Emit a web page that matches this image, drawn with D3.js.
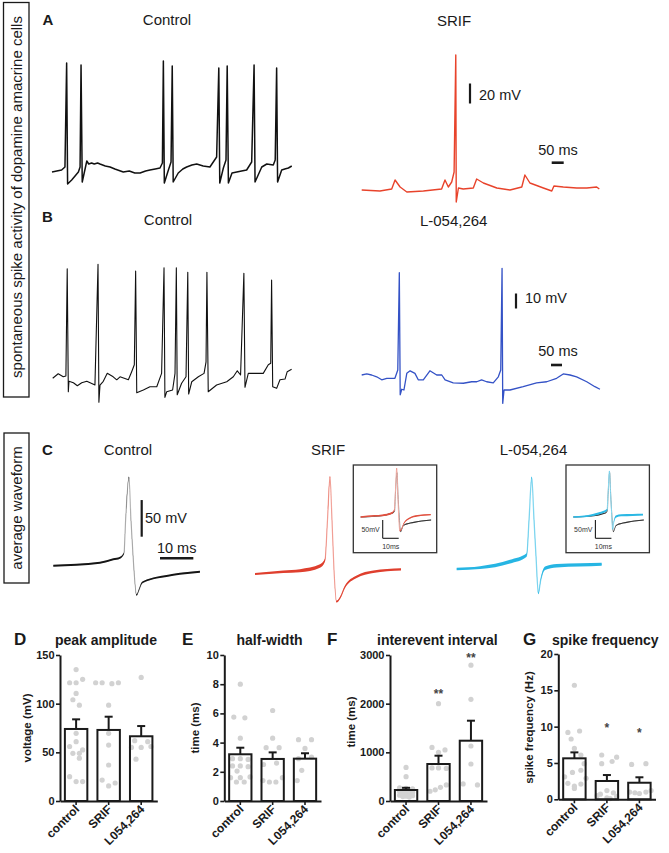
<!DOCTYPE html>
<html><head><meta charset="utf-8">
<script src="https://cdn.jsdelivr.net/npm/d3@7"></script>
<style>
body{margin:0;background:#fff;}
svg{display:block;font-family:"Liberation Sans",Arial,Helvetica,sans-serif;}
</style></head><body>
<svg id="fig" width="669" height="853"></svg>
<script>
// ---------------- DATA (time in ms, membrane potential in mV) ----------------
const ctrlA = [[0,-52],[40,-50],[54,-47],[61,57],[65,-64],[82,-60],[110,-52],[117,-47],[121,55],[126,-62],[145,-41],[153,-44],[165,-43],[176,-44],[190,-43],[200,-44],[222,-46],[242,-47],[262,-49],[297,-52],[322,-51],[345,-53],[367,-53],[390,-51],[408,-50],[430,-49],[450,-48],[460,-43],[464,59],[468,-63],[485,-50],[496,-42],[501,54],[505,-62],[526,-53],[545,-49],[561,-47],[583,-45],[603,-44],[630,-46],[658,-47],[686,-37],[695,52],[699,-63],[714,-48],[725,-40],[730,54],[735,-63],[750,-53],[770,-52],[790,-51],[811,-50],[832,-42],[842,55],[846,-62],[874,-47],[895,-44],[922,-45],[930,-40],[936,52],[940,-62],[957,-50],[970,-49],[985,-48],[999,-46]];
const srifA = [[0,-50],[76,-51],[125,-49],[139,-40],[160,-47],[188,-52],[257,-51],[333,-49],[347,-40],[361,-47],[375,-42],[385,-32],[392,85],[394,-62],[403,-48],[423,-49],[465,-48],[479,-39],[507,-43],[563,-48],[618,-50],[667,-47],[680,-35],[701,-43],[757,-48],[792,-51],[801,-46],[840,-47],[896,-48],[938,-48],[979,-47],[990,-49]];
const ctrlB = [[0,-55],[25,-52],[48,-54],[60,-53.5],[66,18],[71,-64],[74,-57],[94,-58],[112,-60],[132,-58],[155,-57],[170,-58],[192,-59.5],[206,21],[210,-71],[215,-59.5],[230,-57],[248,-51.7],[275,-54],[291,-56],[306,-54],[344,-56],[359,-50.6],[371,-46],[377,16.5],[382,-64.6],[412,-62.8],[442,-60.6],[473,-60.6],[495,-51.7],[506,18.7],[510,-67.7],[518,-64],[545,-62.8],[556,-51.7],[562,18.7],[566,-66],[586,-58.3],[606,-54],[614,15.7],[618,-65.5],[632,-57.3],[662,-54],[688,-51.7],[697,-44],[701,15.7],[707,-64],[745,-59.5],[791,-57.3],[821,-54],[839,-50],[854,-52.8],[869,15],[874,-61],[889,-51.7],[927,-51.7],[957,-51.7],[980,-46],[991,-45],[995,10.5],[1000,-60.6],[1018,-61.7],[1033,-56],[1056,-55.5],[1066,-50.6],[1086,-49]];
const l054B = [[0,-52.8],[23,-52.1],[45,-52.8],[68,-54],[91,-56],[114,-55],[151,-55],[164,-49.5],[171,15.4],[175,-66],[182,-62.3],[192,-62.8],[205,-51.7],[220,-50],[242,-51.7],[257,-56],[280,-56],[310,-50],[341,-52.8],[364,-52.8],[379,-56],[416,-58],[462,-58.3],[500,-57.3],[523,-57.3],[545,-56],[568,-57.3],[598,-58],[621,-54],[632,-49.5],[638,18.3],[641,-71.7],[647,-62.8],[674,-62.8],[734,-60.6],[795,-58],[841,-57.3],[886,-55],[916,-52.1],[947,-52.8],[977,-54],[1023,-57.3],[1060,-60.6],[1083,-62.3]];

// average waveforms (mean) and their SEM
const ctrlC = [[0,-55],[14,-50.9],[18,-46.3],[20,-44.1],[21.2,-38.1],[21.7,7.3],[22.7,65.6],[23.3,7.3],[24,-47],[25,-95],[25.7,-88],[26.5,-79],[27.5,-76],[29,-73.6],[31,-71.3],[34,-69],[38,-66],[44,-63.2]];
const ctrlSem = [1.3,1.3,1.3,1.3,1.2,1,1,1,1,1.1,1.2,1.3,1.3,1.3,1.3,1.3,1.3,1.3];
const srifC = [[0,-55],[8.5,-51.9],[13.5,-50.5],[19.5,-44.1],[21,-35.9],[21.75,18.7],[22.5,77.7],[23.1,18.7],[23.7,-49.5],[24.5,-92.8],[25.5,-87.7],[27,-72.3],[30.5,-58.7],[35.5,-51.9],[43.8,-48.6]];
const srifSem = [1.5,1.7,2.1,2.3,1.9,1,1,1,1,1.2,1.5,1.7,1.7,1.7,1.5];
const l054C = [[0,-55],[7,-53.2],[16,-45],[21,-35.9],[21.7,11.8],[22.5,70.1],[23.2,11.8],[23.8,-38.2],[24.5,-88.2],[25.2,-70],[26.5,-54],[30,-50.5],[37,-49.5],[43.5,-48.6]];
const l054Sem = [1.6,1.9,2.5,2.3,1.2,1.2,1.2,1.2,1.2,1.5,2.3,2.3,2.2,2.0];

// bar charts: [value, jitter]
const categories = ["control","SRIF","L054,264"];
const peakMean = [74, 73, 66.5];
const peakSem = [9.9, 13.6, 10.5];
const peakDots = [
  [[135,0],[121.5,-1],[121.5,0],[125,1],[110.5,0],[104,-0.5],[98.5,0.5],[69.5,0],[61,0],[56,-1],[52.5,1],[49,-0.5],[49,0.5],[44,0.5],[25,-1],[20,0],[20,1]],
  [[121.5,-2],[121.5,-1],[120.5,0.5],[121.5,1.5],[98.5,0],[69.5,0],[57.5,0],[37,0],[21.5,-1],[18.5,1],[15.5,0]],
  [[127,0],[62,-1],[61,1],[55,-1.5],[55,0],[56,1.5],[43,-0.8]]
];
const halfMean = [3.2, 2.88, 2.9];
const halfSem = [0.45, 0.45, 0.37];
const halfDots = [
  [[8.0,0],[5.75,-1],[5.7,0.7],[4.3,0],[2.9,-1.2],[2.9,0],[2.85,1.2],[2.4,-1.2],[2.4,0],[2.35,1.2],[2.05,-0.5],[1.6,-1.5],[1.6,0],[1.65,1.5],[1.3,-0.6],[1.3,0.6]],
  [[6.2,0],[4.3,0],[3.65,-1],[3.65,1],[2.6,0.6],[2.5,-1.4],[1.6,1.5],[1.4,-1.5],[1.3,-0.5],[1.3,0.5]],
  [[4.2,-1],[4.2,1],[3.6,0],[3.0,1],[2.9,-1],[2.1,-0.5],[1.4,-1.2]]
];
const ieiMean = [226, 760, 1239];
const ieiSem = [45, 171, 411];
const ieiDots = [
  [[690,0],[500,0],[270,-1],[260,0],[250,1],[240,-0.5],[230,0.5],[200,-1],[180,1],[160,0],[150,-0.5],[130,0.5],[120,-1],[110,1],[100,0],[90,-0.5],[80,0.5]],
  [[2000,0],[1100,-1],[1050,1],[1000,0],[680,-1],[680,0],[670,1.2],[330,1.2],[280,0.3],[230,-0.5],[200,-1.3]],
  [[2790,0],[2090,0],[1130,0],[760,0],[350,-1.2],[330,1]]
];
const ieiStars = ["", "**", "**"];
const ieiStarLevel = [0, 2240, 2985];
const freqMean = [5.64, 2.52, 2.28];
const freqSem = [0.82, 0.82, 0.75];
const freqDots = [
  [[15.7,0],[9.4,0.8],[9.2,-1],[8.3,-0.5],[7.0,0],[6.1,1],[4.9,1.5],[4.0,1],[3.7,-0.3],[3.1,-1.5],[2.9,1.8],[2.2,-1],[2.1,1],[1.8,0],[1.5,0]],
  [[6.1,-0.8],[5.8,1.5],[5.2,0.8],[4.9,-0.8],[1.2,0],[0.9,1],[0.7,-1],[0.5,-1.5],[0.4,1.5],[0.2,0],[0.1,0.5]],
  [[4.8,-1.2],[4.9,1],[1.2,1.8],[1.0,-1.5],[0.8,0],[0.9,-0.7],[1.0,1]]
];
const freqStars = ["", "*", "*"];
const freqStarLevel = [0, 10.1, 9.5];

// ---------------- DRAWING ----------------
const svg = d3.select("#fig");
const INK = "#1a1a1a";

function txt(x, y, s, o = {}) {
  const t = svg.append("text").attr("x", x).attr("y", y).text(s)
    .attr("font-size", o.size || 15).attr("fill", o.fill || INK)
    .attr("font-weight", o.bold ? "bold" : "normal")
    .attr("text-anchor", o.anchor || "start");
  if (o.rotate) t.attr("transform", `rotate(${o.rotate},${x},${y})`);
  return t;
}

function scales(data, o) {
  const tMax = d3.max(data, d => d[0]);
  const x = d3.scaleLinear().domain([0, tMax]).range([o.x0, o.x0 + tMax * o.pxMs]);
  const y = d3.scaleLinear().domain([o.vRest, o.vRest + 100]).range([o.yRest, o.yRest - 100 * o.pxMv]);
  return {x, y};
}

function drawTrace(data, o) {
  const {x, y} = scales(data, o);
  const line = d3.line().x(d => x(d[0])).y(d => y(d[1]));
  svg.append("path").datum(data).attr("d", line).attr("fill", "none")
    .attr("stroke", o.color).attr("stroke-width", o.sw).attr("stroke-linejoin", "round");
  return {x, y};
}

function drawWave(data, sem, o) {
  const {x, y} = scales(data, o);
  const curve = d3.curveMonotoneX;
  const line = d3.line().x(d => x(d[0])).y(d => y(d[1])).curve(curve);
  const area = d3.area().x(d => x(d[0]))
    .y0((d, i) => y(d[1] - sem[i] * o.semK)).y1((d, i) => y(d[1] + sem[i] * o.semK)).curve(curve);
  svg.append("path").datum(data).attr("d", line).attr("fill", "none")
    .attr("stroke", o.light).attr("stroke-width", o.lw);
  svg.append("path").datum(data).attr("d", area).attr("fill", o.dark).attr("stroke", "none");
  return {x, y};
}

function vBar(x, yBottom, len, yScale, w) {
  const h = Math.abs(yScale(0) - yScale(len));
  svg.append("line").attr("x1", x).attr("x2", x).attr("y1", yBottom).attr("y2", yBottom - h)
    .attr("stroke", INK).attr("stroke-width", w);
}
function hBar(x, y, len, xScale, w) {
  const l = xScale(len) - xScale(0);
  svg.append("line").attr("x1", x).attr("x2", x + l).attr("y1", y).attr("y2", y)
    .attr("stroke", INK).attr("stroke-width", w);
  return l;
}

// left boxed labels
svg.append("rect").attr("x", 3.5).attr("y", 2.5).attr("width", 25.5).attr("height", 394.5)
  .attr("fill", "none").attr("stroke", INK).attr("stroke-width", 1.3);
txt(22, 197, "spontaneous spike activity of dopamine amacrine cells", {anchor: "middle", rotate: -90, size: 15});
svg.append("rect").attr("x", 4).attr("y", 433).attr("width", 25).attr("height", 150)
  .attr("fill", "none").attr("stroke", INK).attr("stroke-width", 1.3);
txt(22, 508, "average waveform", {anchor: "middle", rotate: -90, size: 15});

// ---- Panel A ----
txt(42.5, 25, "A", {bold: true, size: 15});
txt(167, 25, "Control", {anchor: "middle"});
txt(454, 26, "SRIF", {anchor: "middle"});
drawTrace(ctrlA, {x0: 52, pxMs: 0.24, vRest: -50, yRest: 170, pxMv: 1, color: "#111", sw: 1.5});
const sA = drawTrace(srifA, {x0: 361.7, pxMs: 0.24, vRest: -50, yRest: 190, pxMv: 1, color: "#e8432b", sw: 1.4});
vBar(470, 103.5, 20, sA.y, 2.2);
txt(479, 100, "20 mV", {size: 14.5});
hBar(551.7, 162.7, 50, sA.x, 2.6);
txt(558, 155, "50 ms", {anchor: "middle", size: 14.5});

// ---- Panel B ----
txt(42, 222, "B", {bold: true, size: 15});
txt(168, 225, "Control", {anchor: "middle"});
txt(453.7, 226, "L-054,264", {anchor: "middle"});
drawTrace(ctrlB, {x0: 52.7, pxMs: 0.22, vRest: -55, yRest: 378.3, pxMv: 1.5, color: "#111", sw: 1.1});
const sB = drawTrace(l054B, {x0: 361.7, pxMs: 0.22, vRest: -55, yRest: 378.3, pxMv: 1.5, color: "#3452c6", sw: 1.3});
vBar(516, 308.5, 10, sB.y, 2.2);
txt(525, 303, "10 mV", {size: 14.5});
hBar(551, 365, 50, sB.x, 2.6);
txt(558, 356, "50 ms", {anchor: "middle", size: 14.5});

// ---- Panel C ----
txt(42, 455, "C", {bold: true, size: 15});
txt(128, 455, "Control", {anchor: "middle"});
txt(328, 455, "SRIF", {anchor: "middle"});
txt(533.5, 455, "L-054,264", {anchor: "middle"});
const sC = drawWave(ctrlC, ctrlSem, {x0: 53.3, pxMs: 3.333, vRest: -55, yRest: 565.7, pxMv: 0.733, semK: 1, light: "#b8b8b8", dark: "#151515", lw: 1.2});
drawWave(srifC, srifSem, {x0: 255, pxMs: 3.333, vRest: -55, yRest: 574, pxMv: 0.733, semK: 1, light: "#f2a59c", dark: "#df3f2e", lw: 1.2});
drawWave(l054C, l054Sem, {x0: 456.7, pxMs: 3.333, vRest: -55, yRest: 569, pxMv: 0.733, semK: 1, light: "#86d8f0", dark: "#26b5e3", lw: 1.3});
vBar(141.7, 536.7, 50, sC.y, 2.2);
txt(145, 523, "50 mV", {size: 14.5});
const lc = hBar(160, 558.3, 10, sC.x, 2.4);
txt(160 + lc / 2, 553, "10 ms", {anchor: "middle", size: 14.5});

// insets
function inset(bx, treat, treatSem, light, dark) {
  svg.append("rect").attr("x", bx).attr("y", 465).attr("width", 83.4).attr("height", 87.7)
    .attr("fill", "#fff").attr("stroke", "#333").attr("stroke-width", 1.3);
  const o = {x0: bx + 7.4, pxMs: 1.6, vRest: -55, yRest: 517, pxMv: 0.367, semK: 1.2, lw: 1};
  drawWave(ctrlC, ctrlSem, Object.assign({}, o, {light: "#9a9a9a", dark: "#333"}));
  const s = drawWave(treat, treatSem, Object.assign({}, o, {light: light, dark: dark}));
  const vx = bx + 29.4;
  vBar(vx, 538.3, 50, s.y, 1.1);
  const l = hBar(vx, 538.3, 10, s.x, 1.1);
  txt(vx - 3, 531.5, "50mV", {anchor: "end", size: 7, fill: "#333"});
  txt(vx + l / 2, 549, "10ms", {anchor: "middle", size: 7, fill: "#333"});
}
inset(353.3, srifC, srifSem, "#f2b0a8", "#e0503f");
inset(566, l054C, l054Sem, "#8fdcf2", "#2cb8e4");

// ---- Bar charts ----
function barChart(o) {
  const x = d3.scaleBand().domain(categories).range([o.left, o.right]).paddingInner(0.31).paddingOuter(0.15);
  const y = d3.scaleLinear().domain([0, o.max]).range([o.bottom, o.top]);
  const bw = x.bandwidth();
  txt(o.letterX, 645, o.letter, {bold: true, size: 17});
  txt(o.titleX, 645, o.title, {bold: true, size: 14});
  categories.forEach((c, i) => {
    const cx = x(c) + bw / 2;
    svg.selectAll(null).data(o.dots[i]).enter().append("circle")
      .attr("cx", d => cx + d[1] * 6.5).attr("cy", d => y(d[0])).attr("r", 2.6)
      .attr("fill", "#d2d2d2");
  });
  svg.selectAll(null).data(categories).enter().append("rect")
    .attr("x", c => x(c)).attr("width", bw)
    .attr("y", (c, i) => y(o.mean[i])).attr("height", (c, i) => y(0) - y(o.mean[i]))
    .attr("fill", "none").attr("stroke", INK).attr("stroke-width", 2);
  categories.forEach((c, i) => {
    const cx = x(c) + bw / 2;
    svg.append("line").attr("x1", cx).attr("x2", cx).attr("y1", y(o.mean[i])).attr("y2", y(o.mean[i] + o.sem[i]))
      .attr("stroke", INK).attr("stroke-width", 2);
    svg.append("line").attr("x1", cx - 4).attr("x2", cx + 4).attr("y1", y(o.mean[i] + o.sem[i])).attr("y2", y(o.mean[i] + o.sem[i]))
      .attr("stroke", INK).attr("stroke-width", 2);
    if (o.stars && o.stars[i]) {
      txt(cx, y(o.starLevel[i]) + 6.5, o.stars[i], {anchor: "middle", bold: true, size: 12, fill: "#444"});
    }
  });
  const ya = svg.append("g").attr("transform", `translate(${o.left},0)`)
    .call(d3.axisLeft(y).tickValues(o.ticks).tickSize(4).tickSizeOuter(0).tickPadding(1.5).tickFormat(d3.format("d")));
  ya.select(".domain").attr("stroke", INK).attr("stroke-width", 2);
  ya.selectAll(".tick line").attr("stroke", INK).attr("stroke-width", 1.6);
  ya.selectAll(".tick text").attr("fill", INK).attr("font-size", 11).attr("font-weight", "bold")
    .attr("font-family", "Liberation Sans, Arial, sans-serif");
  const xa = svg.append("g").attr("transform", `translate(0,${o.bottom})`)
    .call(d3.axisBottom(x).tickSize(4).tickSizeOuter(0).tickFormat(""));
  xa.select(".domain").attr("stroke", INK).attr("stroke-width", 2);
  xa.selectAll(".tick line").attr("stroke", INK).attr("stroke-width", 1.6);
  categories.forEach(c => {
    const cx = x(c) + bw / 2 + 4;
    const cy = o.bottom + 9;
    txt(cx, cy, c, {anchor: "end", bold: true, size: 12, rotate: -45});
  });
  txt(o.labelX, o.labelY, o.ylabel, {anchor: "middle", bold: true, size: 11.5, rotate: -90});
}

barChart({letter: "D", letterX: 14, title: "peak amplitude", titleX: 55, left: 60, right: 157.3, top: 655, bottom: 801, max: 150,
  ticks: [0, 50, 100, 150], mean: peakMean, sem: peakSem, dots: peakDots, ylabel: "voltage (mV)", labelX: 30.5, labelY: 728});
barChart({letter: "E", letterX: 182, title: "half-width", titleX: 236.5, left: 224.3, right: 321, top: 655, bottom: 801, max: 10,
  ticks: [0, 2, 4, 6, 8, 10], mean: halfMean, sem: halfSem, dots: halfDots, ylabel: "time (ms)", labelX: 199, labelY: 728});
barChart({letter: "F", letterX: 327, title: "interevent interval", titleX: 377, left: 390, right: 487, top: 655, bottom: 801, max: 3000,
  ticks: [0, 1000, 2000, 3000], mean: ieiMean, sem: ieiSem, dots: ieiDots, stars: ieiStars, starLevel: ieiStarLevel,
  ylabel: "time (ms)", labelX: 355, labelY: 722});
barChart({letter: "G", letterX: 523, title: "spike frequency", titleX: 552, left: 558.3, right: 655.5, top: 654, bottom: 799.3, max: 20,
  ticks: [0, 5, 10, 15, 20], mean: freqMean, sem: freqSem, dots: freqDots, stars: freqStars, starLevel: freqStarLevel,
  ylabel: "spike frequency (Hz)", labelX: 533, labelY: 727.5});
</script>
</body></html>
